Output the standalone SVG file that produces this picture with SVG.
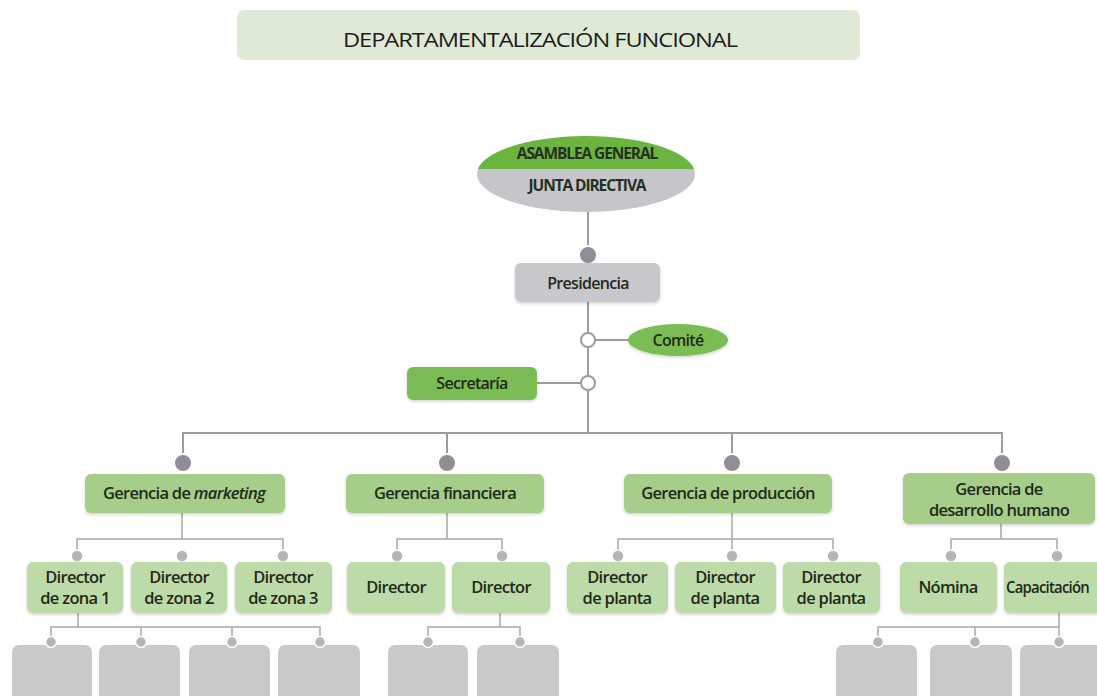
<svg xmlns="http://www.w3.org/2000/svg" width="1097" height="696" viewBox="0 0 1097 696">
  <defs>
    <style>
      text { font-family: "Open Sans", "Liberation Sans", sans-serif; fill: #1f2a19; text-anchor: middle; font-weight: 600; letter-spacing: -0.7px; }
      .title { font-size: 20px; font-weight: 500; letter-spacing: -0.9px; fill: #1c1c1c; }
      .t15 { font-size: 16.5px; }
      .t14 { font-size: 16px; }
      .caps { font-size: 15.5px; font-weight: 700; letter-spacing: -1.1px; fill: #263021; }
      .ln { stroke: #9c9c9c; stroke-width: 2; fill: none; }
      .ln1 { stroke: #a8a8a8; stroke-width: 1.5; fill: none; }
      .mgr { fill: #a6cd89; filter: url(#sh); }
      .dir { fill: #bddba8; filter: url(#sh); }
      .dark { fill: #7cbc55; filter: url(#sh); }
      .grey { fill: #c8c8cc; filter: url(#sh); }
      .blank { fill: #c9c9c9; }
      .dot { fill: #8f8e97; stroke: #ffffff; stroke-width: 2; }
      .sdot { fill: #b4b4b9; stroke: #ffffff; stroke-width: 1.5; }
      .ring { fill: #ffffff; stroke: #9c9c9c; stroke-width: 2; }
    </style>
    <filter id="sh" x="-10%" y="-20%" width="120%" height="150%">
      <feDropShadow dx="0" dy="1.5" stdDeviation="1.5" flood-color="#000000" flood-opacity="0.18"/>
    </filter>
    <clipPath id="ovalClip">
      <ellipse cx="586" cy="174" rx="109" ry="38"/>
    </clipPath>
  </defs>

  <rect width="1097" height="696" fill="#ffffff"/>

  <!-- heading -->
  <g id="title">
    <rect x="237" y="10" width="623" height="50" rx="7" fill="#dfead6"/>
    <text class="title" x="540" y="47" textLength="394" lengthAdjust="spacingAndGlyphs">DEPARTAMENTALIZACIÓN FUNCIONAL</text>
  </g>

  <!-- connectors -->
  <g id="connectors">
    <!-- main trunk -->
    <path class="ln" d="M588 211 V433"/>
    <path class="ln" d="M595 340 H628"/>
    <path class="ln" d="M537 383 H581"/>
    <path class="ln" d="M183 463 V433 H1002 V463"/>
    <path class="ln" d="M447 433 V463"/>
    <path class="ln" d="M732 433 V463"/>
    <!-- second level -->
    <path class="ln1" d="M182 513 V539"/>
    <path class="ln1" d="M77 556 V539 H283 V556"/>
    <path class="ln1" d="M447 513 V539"/>
    <path class="ln1" d="M397 556 V539 H502 V556"/>
    <path class="ln1" d="M732 513 V556"/>
    <path class="ln1" d="M618 556 V539 H833 V556"/>
    <path class="ln1" d="M1001 524 V539"/>
    <path class="ln1" d="M951 556 V539 H1057 V556"/>
    <!-- third level -->
    <path class="ln1" d="M78 613 V627"/>
    <path class="ln1" d="M51 642 V627 H320 V642"/>
    <path class="ln1" d="M141 627 V642"/>
    <path class="ln1" d="M232 627 V642"/>
    <path class="ln1" d="M500 613 V627"/>
    <path class="ln1" d="M428 642 V627 H520 V642"/>
    <path class="ln1" d="M1059 613 V642"/>
    <path class="ln1" d="M878 642 V627 H1059"/>
    <path class="ln1" d="M975 627 V642"/>
  </g>

  <!-- top of the hierarchy -->
  <g id="asamblea">
    <g clip-path="url(#ovalClip)">
      <rect x="470" y="130" width="240" height="39" fill="#6bb43f"/>
      <rect x="470" y="169" width="240" height="50" fill="#c6c6ca"/>
    </g>
    <text class="caps" x="587" y="159">ASAMBLEA GENERAL</text>
    <text class="caps" x="587" y="191">JUNTA DIRECTIVA</text>
  </g>

  <g id="presidencia">
    <circle class="dot" cx="588" cy="255" r="9"/>
    <rect class="grey" x="515" y="263" width="145" height="39" rx="6"/>
    <text class="t14" x="588" y="289">Presidencia</text>
  </g>

  <g id="comite">
    <circle class="ring" cx="588" cy="340" r="7"/>
    <ellipse cx="678" cy="340" rx="50" ry="16" fill="#7cbc55" filter="url(#sh)"/>
    <text class="t14" x="678" y="346">Comité</text>
  </g>

  <g id="secretaria">
    <circle class="ring" cx="588" cy="383" r="7"/>
    <rect class="dark" x="407" y="367" width="130" height="33" rx="6"/>
    <text class="t14" x="472" y="389">Secretaría</text>
  </g>

  <!-- management level -->
  <g id="gerencia-marketing">
    <circle class="dot" cx="183" cy="463" r="9"/>
    <rect class="mgr" x="85" y="474" width="200" height="39" rx="6"/>
    <text class="t15" x="184" y="499">Gerencia de <tspan font-style="italic">marketing</tspan></text>
  </g>

  <g id="gerencia-financiera">
    <circle class="dot" cx="447" cy="463" r="9"/>
    <rect class="mgr" x="346" y="474" width="198" height="39" rx="6"/>
    <text class="t15" x="445" y="499">Gerencia financiera</text>
  </g>

  <g id="gerencia-produccion">
    <circle class="dot" cx="732" cy="463" r="9"/>
    <rect class="mgr" x="624" y="474" width="208" height="39" rx="6"/>
    <text class="t15" x="728" y="499">Gerencia de producción</text>
  </g>

  <g id="gerencia-desarrollo">
    <circle class="dot" cx="1002" cy="463" r="9"/>
    <rect class="mgr" x="903" y="473" width="192" height="51" rx="6"/>
    <text class="t15" x="999" y="495">Gerencia de</text>
    <text class="t15" x="999" y="516">desarrollo humano</text>
  </g>

  <!-- director level -->
  <g id="director-zona-1">
    <circle class="sdot" cx="77" cy="556" r="6"/>
    <rect class="dir" x="27" y="562" width="96" height="51" rx="6"/>
    <text class="t15" x="75" y="583">Director</text>
    <text class="t15" x="75" y="604">de zona 1</text>
  </g>
  <g id="director-zona-2">
    <circle class="sdot" cx="182" cy="556" r="6"/>
    <rect class="dir" x="131" y="562" width="96" height="51" rx="6"/>
    <text class="t15" x="179" y="583">Director</text>
    <text class="t15" x="179" y="604">de zona 2</text>
  </g>
  <g id="director-zona-3">
    <circle class="sdot" cx="283" cy="556" r="6"/>
    <rect class="dir" x="235" y="562" width="97" height="51" rx="6"/>
    <text class="t15" x="283" y="583">Director</text>
    <text class="t15" x="283" y="604">de zona 3</text>
  </g>

  <g id="director-fin-1">
    <circle class="sdot" cx="397" cy="556" r="6"/>
    <rect class="dir" x="347" y="562" width="98" height="51" rx="6"/>
    <text class="t15" x="396" y="593">Director</text>
  </g>
  <g id="director-fin-2">
    <circle class="sdot" cx="502" cy="556" r="6"/>
    <rect class="dir" x="452" y="562" width="98" height="51" rx="6"/>
    <text class="t15" x="501" y="593">Director</text>
  </g>

  <g id="director-planta-1">
    <circle class="sdot" cx="618" cy="556" r="6"/>
    <rect class="dir" x="567" y="562" width="101" height="51" rx="6"/>
    <text class="t15" x="617" y="583">Director</text>
    <text class="t15" x="617" y="604">de planta</text>
  </g>
  <g id="director-planta-2">
    <circle class="sdot" cx="732" cy="556" r="6"/>
    <rect class="dir" x="675" y="562" width="101" height="51" rx="6"/>
    <text class="t15" x="725" y="583">Director</text>
    <text class="t15" x="725" y="604">de planta</text>
  </g>
  <g id="director-planta-3">
    <circle class="sdot" cx="833" cy="556" r="6"/>
    <rect class="dir" x="783" y="562" width="97" height="51" rx="6"/>
    <text class="t15" x="831" y="583">Director</text>
    <text class="t15" x="831" y="604">de planta</text>
  </g>

  <g id="nomina">
    <circle class="sdot" cx="951" cy="556" r="6"/>
    <rect class="dir" x="900" y="562" width="97" height="51" rx="6"/>
    <text class="t15" x="948" y="593">Nómina</text>
  </g>
  <g id="capacitacion">
    <circle class="sdot" cx="1057" cy="556" r="6"/>
    <rect class="dir" x="1004" y="562" width="110" height="51" rx="6"/>
    <text x="1006" y="593" style="text-anchor: start; font-size: 15.5px; letter-spacing: -0.8px" textLength="83" lengthAdjust="spacingAndGlyphs">Capacitación</text>
  </g>

  <!-- blank units at the bottom -->
  <g id="unit-a1"><rect class="blank" x="12" y="645" width="80" height="60" rx="7"/><circle class="sdot" cx="51" cy="642" r="5.5"/></g>
  <g id="unit-a2"><rect class="blank" x="99" y="645" width="81" height="60" rx="7"/><circle class="sdot" cx="141" cy="642" r="5.5"/></g>
  <g id="unit-a3"><rect class="blank" x="189" y="645" width="81" height="60" rx="7"/><circle class="sdot" cx="232" cy="642" r="5.5"/></g>
  <g id="unit-a4"><rect class="blank" x="278" y="645" width="82" height="60" rx="7"/><circle class="sdot" cx="320" cy="642" r="5.5"/></g>
  <g id="unit-b1"><rect class="blank" x="388" y="645" width="80" height="60" rx="7"/><circle class="sdot" cx="428" cy="642" r="5.5"/></g>
  <g id="unit-b2"><rect class="blank" x="477" y="645" width="82" height="60" rx="7"/><circle class="sdot" cx="520" cy="642" r="5.5"/></g>
  <g id="unit-c1"><rect class="blank" x="836" y="645" width="81" height="60" rx="7"/><circle class="sdot" cx="878" cy="642" r="5.5"/></g>
  <g id="unit-c2"><rect class="blank" x="930" y="645" width="82" height="60" rx="7"/><circle class="sdot" cx="975" cy="642" r="5.5"/></g>
  <g id="unit-c3"><rect class="blank" x="1020" y="645" width="90" height="60" rx="7"/><circle class="sdot" cx="1059" cy="642" r="5.5"/></g>
</svg>
